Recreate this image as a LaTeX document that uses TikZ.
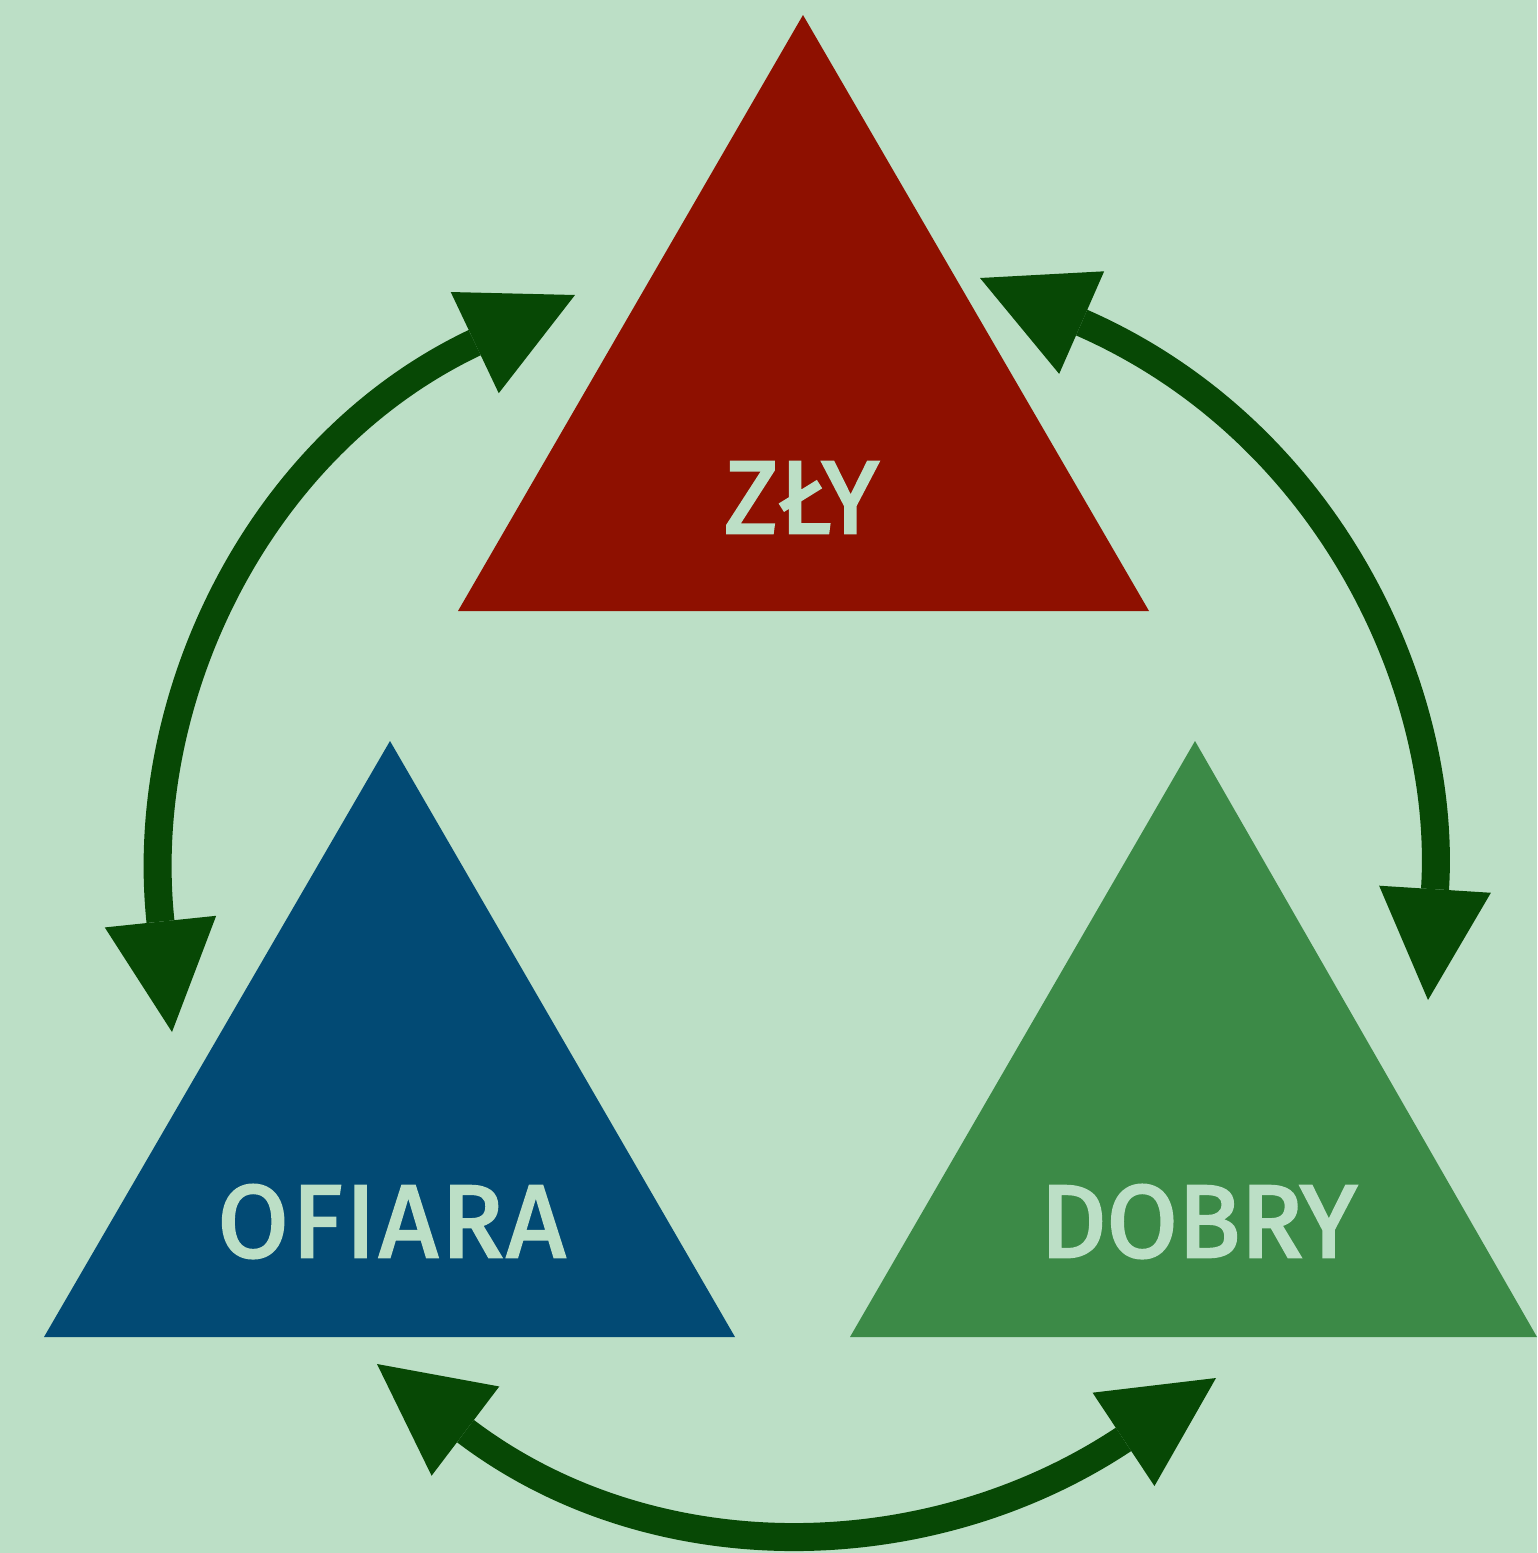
\documentclass[tikz,border=0pt]{standalone}
\usepackage{fontspec}
\setmainfont{Fira Sans}
\newfontfamily\rolefont{Fira Sans}[FakeBold=2.6]
\usetikzlibrary{arrows.meta}

\definecolor{paper}{HTML}{BCDFC6}
\definecolor{villain}{HTML}{8E1000}
\definecolor{victim}{HTML}{024A74}
\definecolor{hero}{HTML}{3C8A47}
\definecolor{loopgreen}{HTML}{074805}

\begin{document}
\begin{tikzpicture}[x=1pt,y=-1pt,
  roletri/.style={fill=#1},
  roletext/.style={text=paper, inner sep=0pt, anchor=base,
    font=\rolefont\fontsize{103}{103}\selectfont},
  swap/.style={draw=loopgreen, line width=28pt,
    {Triangle[length=111pt,width=112pt,line width=0pt]}-{Triangle[length=111pt,width=112pt,line width=0pt]}}]

  % canvas
  \fill[paper] (0,0) rectangle (1537,1553);
  \useasboundingbox (0,0) rectangle (1537,1553);

  % the three roles
  \fill[roletri=villain] (803,15) -- (1149,611) -- (458,611) -- cycle;
  \fill[roletri=victim] (390,741) -- (735,1337) -- (44,1337) -- cycle;
  \fill[roletri=hero] (1195,741) -- (1537,1337) -- (850,1337) -- cycle;

  \node[roletext] (zly) at (801.5,533) {ZŁY};
  \node[roletext] (ofiara) at (391.5,1257) {\addfontfeature{LetterSpace=3}OFIARA};
  \node[roletext] (dobry) at (1198.5,1257) {DOBRY};

  % ends of the role-swapping arrows
  \coordinate (ofiaraIn) at (172,1032);
  \coordinate (zlyInL) at (575,295);
  \coordinate (zlyInR) at (980,278);
  \coordinate (dobryIn) at (1428,1000);
  \coordinate (ofiaraInB) at (377,1364);
  \coordinate (dobryInB) at (1216,1378);

  \draw[swap] (ofiaraIn) .. controls (137.1,697.9) and (258,445.5) .. (zlyInL);
  \draw[swap] (zlyInR) .. controls (1328.8,431) and (1447.6,690) .. (dobryIn);
  \draw[swap] (ofiaraInB) .. controls (652.5,1573) and (928,1569) .. (dobryInB);
\end{tikzpicture}
\end{document}
